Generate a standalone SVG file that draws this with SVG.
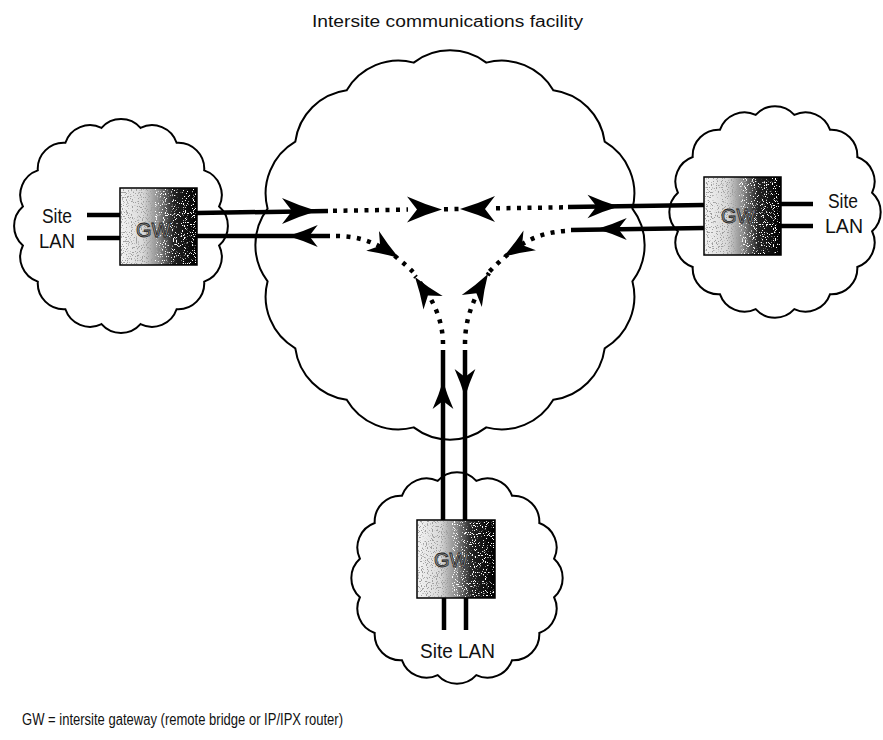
<svg xmlns="http://www.w3.org/2000/svg" xmlns:xlink="http://www.w3.org/1999/xlink" width="883" height="740" viewBox="0 0 883 740">
<style>
.cloud{fill:#fff;stroke:#000;stroke-width:2;stroke-linejoin:miter}
.solid{fill:none;stroke:#000;stroke-width:4.5}
.dot{fill:none;stroke:#000;stroke-width:4.5;stroke-dasharray:4 6.5}
.box{fill:url(#gwfill);stroke:#000;stroke-width:1.5}
.spw{fill:#000;filter:url(#speckW)}
.spd{fill:#000;filter:url(#speckD)}
.gw{font-family:"Liberation Sans",Arial,sans-serif;font-size:20px;fill:#999;stroke:#222;stroke-width:0.8}
.lbl{font-family:"Liberation Sans",Arial,sans-serif;font-size:20px;fill:#111}
.cap{font-family:"Liberation Sans",Arial,sans-serif;font-size:16px;fill:#111}
.ah{fill:#000}
</style>
<defs>
<linearGradient id="gwfill" x1="0" y1="0" x2="1" y2="0">
<stop offset="0" stop-color="#f4f4f4"/>
<stop offset="0.3" stop-color="#d8d8d8"/>
<stop offset="0.5" stop-color="#8a8a8a"/>
<stop offset="0.7" stop-color="#222"/>
<stop offset="1" stop-color="#000"/>
</linearGradient>
<filter id="speckW" x="0" y="0" width="1" height="1">
<feTurbulence type="fractalNoise" baseFrequency="0.9" numOctaves="1" seed="4" result="n"/>
<feColorMatrix in="n" type="matrix" values="0 0 0 0 1  0 0 0 0 1  0 0 0 0 1  14 0 0 0 -8.3" result="w"/>
<feComposite in="w" in2="SourceGraphic" operator="in"/>
</filter>
<filter id="speckD" x="0" y="0" width="1" height="1">
<feTurbulence type="fractalNoise" baseFrequency="0.8" numOctaves="1" seed="9" result="n"/>
<feColorMatrix in="n" type="matrix" values="0 0 0 0 0.35  0 0 0 0 0.35  0 0 0 0 0.35  14 0 0 0 -8.0" result="d"/>
<feComposite in="d" in2="SourceGraphic" operator="in"/>
</filter>
<path id="ah" class="ah" d="M0,0 Q-17,-5 -35,-13 L-25,0 L-35,13 Q-17,5 0,0 Z"/>
</defs>

<g id="facility-cloud">
<path class="cloud" d="M413.7,62.6 A60,60 0 0 1 486.3,62.6 A60,60 0 0 1 553.3,90.3 A60,60 0 0 1 604.7,141.7 A60,60 0 0 1 632.4,208.7 A60,60 0 0 1 632.4,281.3 A60,60 0 0 1 604.7,348.3 A60,60 0 0 1 553.3,399.7 A60,60 0 0 1 486.3,427.4 A60,60 0 0 1 413.7,427.4 A60,60 0 0 1 346.7,399.7 A60,60 0 0 1 295.3,348.3 A60,60 0 0 1 267.6,281.3 A60,60 0 0 1 267.6,208.7 A60,60 0 0 1 295.3,141.7 A60,60 0 0 1 346.7,90.3 A60,60 0 0 1 413.7,62.6 Z"/>
<text class="cap" x="312" y="27" textLength="271" lengthAdjust="spacingAndGlyphs">Intersite communications facility</text>
</g>

<g id="left-site">
<path class="cloud" d="M101.5,127.9 A26,26 0 0 1 140.5,127.9 A26,26 0 0 1 176.6,142.8 A26,26 0 0 1 204.2,170.4 A26,26 0 0 1 219.1,206.5 A26,26 0 0 1 219.1,245.5 A26,26 0 0 1 204.2,281.6 A26,26 0 0 1 176.6,309.2 A26,26 0 0 1 140.5,324.1 A26,26 0 0 1 101.5,324.1 A26,26 0 0 1 65.4,309.2 A26,26 0 0 1 37.8,281.6 A26,26 0 0 1 22.9,245.5 A26,26 0 0 1 22.9,206.5 A26,26 0 0 1 37.8,170.4 A26,26 0 0 1 65.4,142.8 A26,26 0 0 1 101.5,127.9 Z"/>
<path class="solid" d="M87,215 L120,215 M87,238 L120,238"/>
<rect class="box" x="120" y="188" width="77" height="77"/>
<rect class="spd" x="121" y="189" width="40" height="75"/>
<rect class="spw" x="155" y="189" width="41" height="75"/>
<text class="gw" x="136" y="237">GW</text>
<text class="lbl" x="42" y="223" textLength="30" lengthAdjust="spacingAndGlyphs">Site</text>
<text class="lbl" x="39" y="248" textLength="36" lengthAdjust="spacingAndGlyphs">LAN</text>
</g>

<g id="right-site">
<path class="cloud" d="M755.7,114.9 A26,26 0 0 1 794.3,114.9 A26,26 0 0 1 830,129.7 A26,26 0 0 1 857.3,157 A26,26 0 0 1 872.1,192.7 A26,26 0 0 1 872.1,231.3 A26,26 0 0 1 857.3,267 A26,26 0 0 1 830,294.3 A26,26 0 0 1 794.3,309.1 A26,26 0 0 1 755.7,309.1 A26,26 0 0 1 720,294.3 A26,26 0 0 1 692.7,267 A26,26 0 0 1 677.9,231.3 A26,26 0 0 1 677.9,192.7 A26,26 0 0 1 692.7,157 A26,26 0 0 1 720,129.7 A26,26 0 0 1 755.7,114.9 Z"/>
<path class="solid" d="M781,204 L813,204 M781,226 L813,226"/>
<rect class="box" x="704" y="177" width="77" height="78"/>
<rect class="spd" x="705" y="178" width="40" height="76"/>
<rect class="spw" x="739" y="178" width="41" height="76"/>
<text class="gw" x="721" y="223">GW</text>
<text class="lbl" x="828" y="208" textLength="30" lengthAdjust="spacingAndGlyphs">Site</text>
<text class="lbl" x="825" y="233" textLength="38" lengthAdjust="spacingAndGlyphs">LAN</text>
</g>

<g id="bottom-site">
<path class="cloud" d="M437.7,480.9 A26,26 0 0 1 476.3,480.9 A26,26 0 0 1 512,495.7 A26,26 0 0 1 539.3,523 A26,26 0 0 1 554.1,558.7 A26,26 0 0 1 554.1,597.3 A26,26 0 0 1 539.3,633 A26,26 0 0 1 512,660.3 A26,26 0 0 1 476.3,675.1 A26,26 0 0 1 437.7,675.1 A26,26 0 0 1 402,660.3 A26,26 0 0 1 374.7,633 A26,26 0 0 1 359.9,597.3 A26,26 0 0 1 359.9,558.7 A26,26 0 0 1 374.7,523 A26,26 0 0 1 402,495.7 A26,26 0 0 1 437.7,480.9 Z"/>
<path class="solid" d="M444,598 L444,630 M466,598 L466,630"/>
<rect class="box" x="417" y="520" width="78" height="78"/>
<rect class="spd" x="418" y="521" width="40" height="76"/>
<rect class="spw" x="452" y="521" width="42" height="76"/>
<text class="gw" x="434" y="567">GW</text>
<text class="lbl" x="420" y="658" textLength="75" lengthAdjust="spacingAndGlyphs">Site LAN</text>
</g>

<g id="connectors">
<path class="solid" d="M197,213 L328,211"/>
<path class="dot" d="M333,210.8 L408,209.6"/>
<path class="dot" d="M444,209.3 L460,209"/>
<path class="dot" d="M496,208.3 L565,207.3"/>
<path class="solid" d="M568,207 L704,205"/>
<path class="solid" d="M197,236 L330,236"/>
<path class="dot" d="M336,236 C362,236 385,244 413,272"/>
<path class="solid" d="M704,228 L571,230"/>
<path class="dot" d="M565,231 C535,233 515,245 488,273"/>
<path class="solid" d="M443,520 L443,350"/>
<path class="dot" d="M443,344 C443,320 433,298 415,276"/>
<path class="solid" d="M465,350 L465,520"/>
<path class="dot" d="M465,344 C465,320 472,300 489,273"/>
<use xlink:href="#ah" transform="translate(317,211)"/>
<use xlink:href="#ah" transform="translate(288,236) rotate(180) scale(0.85)"/>
<use xlink:href="#ah" transform="translate(442,209.5)"/>
<use xlink:href="#ah" transform="translate(460,209) rotate(180)"/>
<use xlink:href="#ah" transform="translate(619,206.5) scale(0.9)"/>
<use xlink:href="#ah" transform="translate(597,229) rotate(180) scale(0.85)"/>
<use xlink:href="#ah" transform="translate(503,257) rotate(148) scale(0.9)"/>
<use xlink:href="#ah" transform="translate(399,258) rotate(33) scale(0.9)"/>
<use xlink:href="#ah" transform="translate(415,277) rotate(-125) scale(0.9)"/>
<use xlink:href="#ah" transform="translate(488,274) rotate(-59) scale(0.9)"/>
<use xlink:href="#ah" transform="translate(443,381) rotate(-90) scale(0.8)"/>
<use xlink:href="#ah" transform="translate(465,397) rotate(90) scale(0.8)"/>
</g>

<text class="cap" x="22" y="725" textLength="321" lengthAdjust="spacingAndGlyphs">GW = intersite gateway (remote bridge or IP/IPX router)</text>
</svg>
